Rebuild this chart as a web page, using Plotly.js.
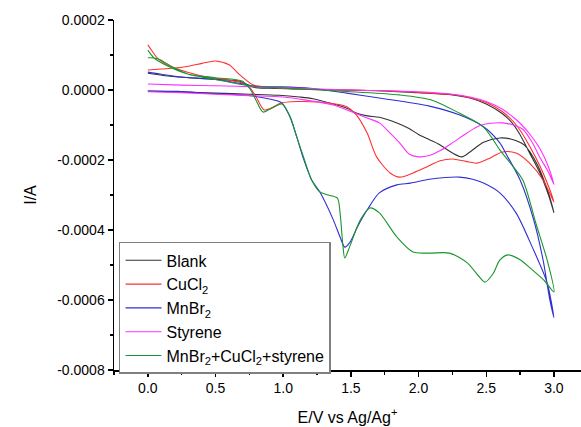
<!DOCTYPE html>
<html>
<head>
<meta charset="utf-8">
<script src="https://cdn.plot.ly/plotly-3.0.1.min.js"></script>
<style>html,body{margin:0;padding:0;background:#fff;}#chart{width:581px;height:427px;}</style>
</head>
<body>
<div id="chart"></div>
<script>
// Blank: forward branch 0 -> 3 V, then return branch 3 -> 0 V
const blankE = [0, 0.25, 0.5, 0.75, 0.97, 1.12, 1.22, 1.37, 1.47, 1.54, 1.62, 1.71, 1.84, 1.93, 2.0, 2.08, 2.15, 2.25, 2.32, 2.38, 2.48, 2.6, 2.68, 2.78, 2.88, 2.96, 3.0,
                2.96, 2.9, 2.82, 2.75, 2.7, 2.62, 2.5, 2.38, 2.25, 2.0, 1.7, 1.4, 1.1, 0.9, 0.78, 0.72, 0.68, 0.5, 0.3, 0.15, 0.0];
const blankI = [-0.03e-4, -0.06e-4, -0.09e-4, -0.12e-4, -0.15e-4, -0.2e-4, -0.25e-4, -0.4e-4, -0.52e-4, -0.66e-4, -0.74e-4, -0.78e-4, -0.94e-4, -1.1e-4, -1.27e-4, -1.42e-4, -1.55e-4, -1.8e-4, -1.91e-4, -1.77e-4, -1.49e-4, -1.37e-4, -1.4e-4, -1.57e-4, -2.15e-4, -2.95e-4, -3.5e-4,
                -3.0e-4, -2.4e-4, -1.8e-4, -1.28e-4, -0.98e-4, -0.68e-4, -0.4e-4, -0.23e-4, -0.14e-4, -0.08e-4, -0.02e-4, 0.0, 0.03e-4, 0.05e-4, 0.08e-4, 0.18e-4, 0.25e-4, 0.31e-4, 0.35e-4, 0.4e-4, 0.48e-4];

const cuE = [0, 0.03, 0.07, 0.13, 0.2, 0.3, 0.44, 0.6, 0.7, 0.75, 0.8, 0.86, 0.92, 0.98, 1.1, 1.34, 1.47, 1.54, 1.62, 1.69, 1.79, 1.86, 1.96, 2.06, 2.16, 2.25, 2.35, 2.43, 2.53, 2.62, 2.72, 2.82, 2.92, 3.0,
             2.96, 2.9, 2.82, 2.75, 2.7, 2.62, 2.5, 2.38, 2.25, 2.0, 1.8, 1.5, 1.2, 0.95, 0.85, 0.78, 0.68, 0.6, 0.5, 0.4, 0.3, 0.2, 0.1, 0.0];
const cuI = [1.29e-4, 1.12e-4, 0.91e-4, 0.75e-4, 0.63e-4, 0.5e-4, 0.37e-4, 0.28e-4, 0.2e-4, 0.08e-4, -0.2e-4, -0.57e-4, -0.5e-4, -0.38e-4, -0.33e-4, -0.37e-4, -0.48e-4, -0.71e-4, -1.23e-4, -1.91e-4, -2.37e-4, -2.49e-4, -2.37e-4, -2.2e-4, -2.02e-4, -1.97e-4, -2.04e-4, -2.09e-4, -1.94e-4, -1.77e-4, -1.8e-4, -2.09e-4, -2.57e-4, -3.2e-4,
             -2.75e-4, -2.2e-4, -1.6e-4, -1.15e-4, -0.9e-4, -0.62e-4, -0.36e-4, -0.22e-4, -0.13e-4, -0.07e-4, -0.03e-4, 0.0, 0.02e-4, 0.06e-4, 0.1e-4, 0.14e-4, 0.43e-4, 0.72e-4, 0.83e-4, 0.76e-4, 0.68e-4, 0.63e-4, 0.6e-4, 0.57e-4];

const mnE = [0, 0.22, 0.47, 0.72, 0.89, 0.99, 1.05, 1.1, 1.145, 1.21, 1.27, 1.37, 1.42, 1.455, 1.49, 1.55, 1.62, 1.71, 1.84, 1.94, 2.08, 2.2, 2.3, 2.4, 2.48, 2.6, 2.72, 2.84, 2.95, 3.0,
             2.97, 2.92, 2.85, 2.75, 2.65, 2.6, 2.48, 2.3, 2.08, 1.71, 1.47, 1.2, 0.97, 0.8, 0.72, 0.5, 0.25, 0.1, 0.0];
const mnI = [-0.03e-4, -0.04e-4, -0.1e-4, -0.15e-4, -0.25e-4, -0.37e-4, -0.77e-4, -1.34e-4, -1.91e-4, -2.57e-4, -2.91e-4, -3.71e-4, -4.2e-4, -4.49e-4, -4.37e-4, -3.9e-4, -3.43e-4, -2.94e-4, -2.71e-4, -2.66e-4, -2.55e-4, -2.5e-4, -2.49e-4, -2.55e-4, -2.66e-4, -2.94e-4, -3.51e-4, -4.49e-4, -5.51e-4, -6.5e-4,
             -6.0e-4, -4.86e-4, -3.7e-4, -2.57e-4, -1.85e-4, -1.51e-4, -1.05e-4, -0.71e-4, -0.46e-4, -0.23e-4, -0.09e-4, 0.05e-4, 0.09e-4, 0.1e-4, 0.16e-4, 0.3e-4, 0.37e-4, 0.45e-4, 0.51e-4];

const styE = [0, 0.25, 0.5, 0.75, 1.0, 1.17, 1.37, 1.51, 1.62, 1.71, 1.79, 1.86, 1.93, 2.0, 2.08, 2.16, 2.25, 2.36, 2.45, 2.53, 2.62, 2.7, 2.77, 2.84, 2.9, 2.96, 3.0,
              2.96, 2.9, 2.82, 2.75, 2.7, 2.62, 2.5, 2.38, 2.25, 2.0, 1.5, 1.12, 0.8, 0.5, 0.25, 0.0];
const styI = [-0.05e-4, -0.08e-4, -0.12e-4, -0.16e-4, -0.2e-4, -0.29e-4, -0.43e-4, -0.63e-4, -0.8e-4, -0.94e-4, -1.23e-4, -1.51e-4, -1.83e-4, -1.91e-4, -1.87e-4, -1.73e-4, -1.51e-4, -1.22e-4, -1.02e-4, -0.95e-4, -0.94e-4, -1.0e-4, -1.12e-4, -1.5e-4, -1.95e-4, -2.35e-4, -2.7e-4,
              -2.2e-4, -1.7e-4, -1.25e-4, -0.95e-4, -0.78e-4, -0.55e-4, -0.33e-4, -0.2e-4, -0.12e-4, -0.05e-4, 0.0, 0.05e-4, 0.09e-4, 0.12e-4, 0.14e-4, 0.17e-4];

const mixE = [0, 0.05, 0.15, 0.3, 0.5, 0.7, 0.76, 0.8, 0.85, 0.9, 0.95, 0.99, 1.05, 1.1, 1.15, 1.21, 1.27, 1.33, 1.4, 1.42, 1.44, 1.455, 1.49, 1.57, 1.64, 1.71, 1.84, 1.96, 2.08, 2.23, 2.36, 2.44, 2.49, 2.55, 2.6, 2.66, 2.75, 2.84, 2.93, 3.0,
              2.95, 2.87, 2.77, 2.68, 2.6, 2.48, 2.3, 2.1, 1.86, 1.5, 1.09, 0.8, 0.72, 0.47, 0.3, 0.2, 0.07, 0.0];
const mixI = [1.14e-4, 0.9e-4, 0.68e-4, 0.45e-4, 0.35e-4, 0.25e-4, 0.0, -0.3e-4, -0.63e-4, -0.55e-4, -0.45e-4, -0.4e-4, -0.75e-4, -1.34e-4, -1.91e-4, -2.57e-4, -2.91e-4, -3.0e-4, -3.09e-4, -3.51e-4, -4.4e-4, -4.8e-4, -4.49e-4, -3.71e-4, -3.37e-4, -3.51e-4, -4.2e-4, -4.63e-4, -4.66e-4, -4.66e-4, -4.94e-4, -5.3e-4, -5.49e-4, -5.25e-4, -4.86e-4, -4.71e-4, -4.85e-4, -5.14e-4, -5.45e-4, -5.77e-4,
              -4.86e-4, -3.85e-4, -2.57e-4, -2.1e-4, -1.71e-4, -1.06e-4, -0.66e-4, -0.29e-4, -0.14e-4, -0.05e-4, 0.04e-4, 0.1e-4, 0.14e-4, 0.32e-4, 0.45e-4, 0.62e-4, 0.9e-4, 0.92e-4];

const seriesNames = ['Blank', 'CuCl<sub>2</sub>', 'MnBr<sub>2</sub>', 'Styrene', 'MnBr<sub>2</sub>+CuCl<sub>2</sub>+styrene'];
const seriesColors = ['#333333', '#ff3030', '#3030d0', '#ff30ff', '#18962e'];

const xTickVals = [0, 0.5, 1.0, 1.5, 2.0, 2.5, 3.0];
const xTickText = ['0.0', '0.5', '1.0', '1.5', '2.0', '2.5', '3.0'];
const yTickVals = [0.0002, 0, -0.0002, -0.0004, -0.0006, -0.0008];
const yTickText = ['0.0002', '0.0000', '-0.0002', '-0.0004', '-0.0006', '-0.0008'];

const xs = [blankE, cuE, mnE, styE, mixE];
const ys = [blankI, cuI, mnI, styI, mixI];

const traces = xs.map((x, i) => ({
  x: x, y: ys[i], name: seriesNames[i], type: 'scatter', mode: 'lines',
  line: {color: seriesColors[i], width: 1.1, shape: 'spline', smoothing: 0.8}
}));

const font = {family: 'Liberation Sans, Arial, sans-serif', color: '#000'};

const layout = {
  width: 581, height: 427,
  margin: {l: 114, r: 0, t: 20, b: 57},
  paper_bgcolor: '#fff', plot_bgcolor: '#fff',
  font: Object.assign({size: 14}, font),
  showlegend: true,
  legend: {
    x: 0.0107, y: 0.366, xanchor: 'left', yanchor: 'top',
    bgcolor: '#fff', bordercolor: '#808080', borderwidth: 1.5,
    font: Object.assign({size: 16}, font),
    tracegroupgap: 0, itemwidth: 36
  },
  xaxis: {
    range: [-0.25, 3.2], showgrid: false, zeroline: false,
    showline: true, linecolor: '#000', linewidth: 1.5,
    ticks: 'outside', ticklen: 5, tickwidth: 1.5, tickcolor: '#000',
    tickvals: xTickVals, ticktext: xTickText,
    tickfont: Object.assign({size: 14}, font),
    minor: {dtick: 0.25, tick0: 0, ticks: 'outside', ticklen: 3, tickwidth: 1.5, tickcolor: '#000', showgrid: false},
    title: {text: 'E/V vs Ag/Ag<sup>+</sup>', font: Object.assign({size: 16}, font), standoff: 16}
  },
  yaxis: {
    range: [-0.0008, 0.0002], showgrid: false, zeroline: false,
    showline: true, linecolor: '#000', linewidth: 1.5,
    ticks: 'outside', ticklen: 5, tickwidth: 1.5, tickcolor: '#000',
    tickvals: yTickVals, ticktext: yTickText,
    tickfont: Object.assign({size: 14}, font),
    minor: {dtick: 0.0001, tick0: 0, ticks: 'outside', ticklen: 3, tickwidth: 1.5, tickcolor: '#000', showgrid: false},
    title: {text: 'I/A', font: Object.assign({size: 16}, font), standoff: 16}
  }
};

Plotly.newPlot('chart', traces, layout, {displayModeBar: false, staticPlot: true});
</script>
</body>
</html>
